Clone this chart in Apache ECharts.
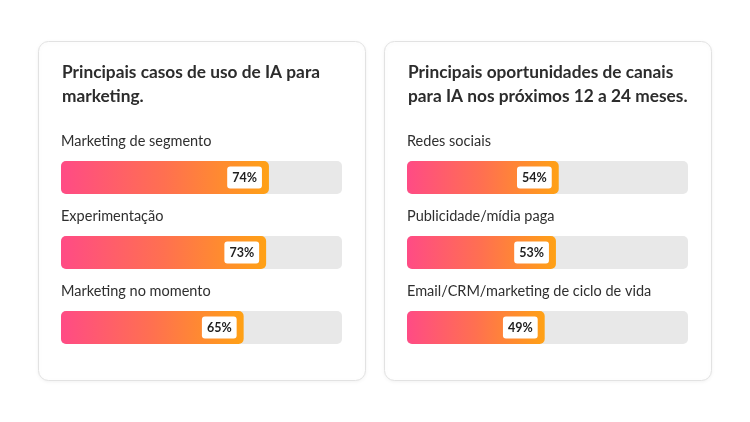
<!DOCTYPE html>
<html><head><meta charset="utf-8">
<script src="https://cdn.jsdelivr.net/npm/echarts@6/dist/echarts.min.js"></script>
<style>html,body{margin:0;padding:0;background:#fff}#c{width:750px;height:422px}</style>
</head><body><div id="c"></div>
<script>
const leftTitle = "Principais casos de uso de IA para\nmarketing.";
const leftCategories = ["Marketing de segmento", "Experimentação", "Marketing no momento"];
const leftValues = [74, 73, 65];
const rightTitle = "Principais oportunidades de canais\npara IA nos próximos 12 a 24 meses.";
const rightCategories = ["Redes sociais", "Publicidade/mídia paga", "Email/CRM/marketing de ciclo de vida"];
const rightValues = [54, 53, 49];
const trackMax = 100;

const FONT = "Lato, 'Open Sans', sans-serif";
const chart = echarts.init(document.getElementById('c'));
const grad = new echarts.graphic.LinearGradient(0, 0, 1, 0, [
  {offset: 0, color: '#ff4b85'},
  {offset: 0.5, color: '#ff7050'},
  {offset: 1, color: '#ffa115'}
]);
function trackSeries(i, cats) {
  return {
    type: 'bar', xAxisIndex: i, yAxisIndex: i, barWidth: 33, barGap: '-100%',
    data: cats.map(() => trackMax), silent: true,
    itemStyle: {color: '#e8e8e8', borderRadius: 5},
    label: {show: true, position: [0, -12], align: 'left', verticalAlign: 'bottom',
      formatter: p => cats[p.dataIndex], fontFamily: FONT, fontSize: 14.5, color: '#2f2f2f'}
  };
}
function valueSeries(i, vals) {
  return {
    type: 'bar', xAxisIndex: i, yAxisIndex: i, barWidth: 33, barGap: '-100%',
    data: vals, itemStyle: {color: grad, borderRadius: 5},
    label: {show: true, position: 'insideRight', distance: 7, formatter: '{c}%',
      backgroundColor: '#fff', borderRadius: 3, padding: [5, 5, 4, 5],
      fontFamily: FONT, fontWeight: 'bold', fontSize: 12.5, color: '#1f1f1f'}
  };
}
function axes(cats) {
  return {
    x: {type: 'value', min: 0, max: trackMax, show: false},
    y: {type: 'category', data: cats, inverse: true, show: false}
  };
}
const a0 = axes(leftCategories), a1 = axes(rightCategories);
chart.setOption({
  animation: false,
  graphic: [
    {type: 'rect', shape: {x: 38.5, y: 41.5, width: 327, height: 339, r: 10},
     style: {fill: '#fff', stroke: '#e2e2e2', lineWidth: 1, shadowBlur: 4, shadowColor: 'rgba(0,0,0,0.06)', shadowOffsetY: 1}, z: -10},
    {type: 'rect', shape: {x: 384.5, y: 41.5, width: 327, height: 339, r: 10},
     style: {fill: '#fff', stroke: '#e2e2e2', lineWidth: 1, shadowBlur: 4, shadowColor: 'rgba(0,0,0,0.06)', shadowOffsetY: 1}, z: -10}
  ],
  title: [
    {text: leftTitle, left: 62, top: 60, padding: 0, textStyle: {fontFamily: FONT, fontSize: 17.3, fontWeight: 'bold', color: '#2c2c2c', lineHeight: 24}},
    {text: rightTitle, left: 408, top: 60, padding: 0, textStyle: {fontFamily: FONT, fontSize: 17.3, fontWeight: 'bold', color: '#2c2c2c', lineHeight: 24}}
  ],
  grid: [
    {left: 61, top: 140, width: 281, height: 225},
    {left: 407, top: 140, width: 281, height: 225}
  ],
  xAxis: [Object.assign({gridIndex: 0}, a0.x), Object.assign({gridIndex: 1}, a1.x)],
  yAxis: [Object.assign({gridIndex: 0}, a0.y), Object.assign({gridIndex: 1}, a1.y)],
  series: [trackSeries(0, leftCategories), valueSeries(0, leftValues),
           trackSeries(1, rightCategories), valueSeries(1, rightValues)]
});
</script></body></html>
